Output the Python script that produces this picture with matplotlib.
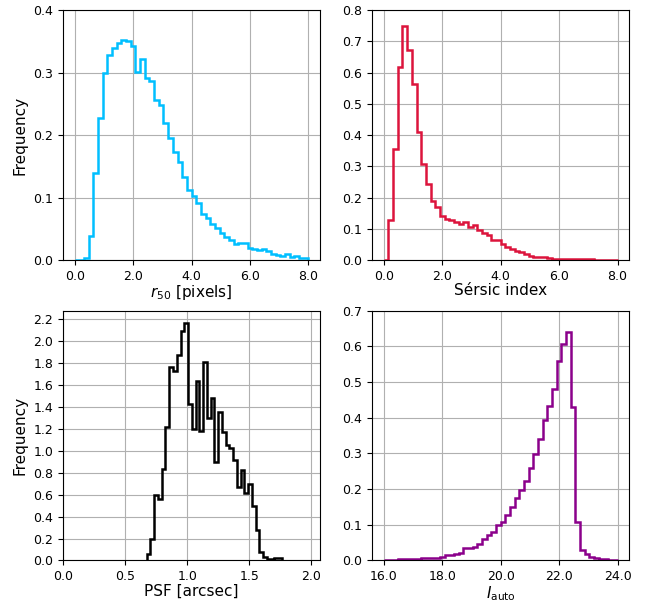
import numpy as np
import matplotlib
matplotlib.use("Agg")
import matplotlib.pyplot as plt

# r50 [pixels], 50 bins over 0-8
r50_lo, r50_hi = 0.0, 8.0
r50_freq = [0.0, 0.0, 0.003, 0.038, 0.140, 0.228, 0.299, 0.328, 0.340, 0.347,
            0.352, 0.350, 0.343, 0.301, 0.322, 0.291, 0.286, 0.257, 0.249, 0.220,
            0.195, 0.173, 0.157, 0.133, 0.112, 0.102, 0.091, 0.073, 0.068, 0.057,
            0.051, 0.043, 0.037, 0.032, 0.025, 0.027, 0.027, 0.020, 0.017, 0.016,
            0.017, 0.015, 0.010, 0.008, 0.007, 0.009, 0.005, 0.006, 0.004, 0.003]

# Sersic index, 50 bins over 0-8
sersic_lo, sersic_hi = 0.0, 8.0
sersic_freq = [0.0, 0.128, 0.355, 0.619, 0.750, 0.672, 0.565, 0.411, 0.307, 0.242,
               0.190, 0.169, 0.141, 0.133, 0.128, 0.123, 0.115, 0.121, 0.107, 0.111,
               0.096, 0.087, 0.080, 0.064, 0.064, 0.051, 0.043, 0.034, 0.029, 0.026,
               0.021, 0.013, 0.011, 0.011, 0.009, 0.007, 0.005, 0.005, 0.004, 0.004,
               0.003, 0.003, 0.002, 0.002, 0.002, 0.001, 0.001, 0.001, 0.001, 0.001]

# PSF [arcsec], 36 bins
psf_lo, psf_hi = 0.674, 1.763
psf_freq = [0.058, 0.194, 0.597, 0.561, 0.834, 1.218, 1.764, 1.725, 1.876, 2.097,
            2.167, 1.425, 1.197, 1.634, 1.179, 1.809, 1.303, 1.485, 0.900, 1.355,
            1.173, 1.052, 1.027, 0.915, 0.673, 0.824, 0.618, 0.697, 0.497, 0.279,
            0.076, 0.036, 0.013, 0.013, 0.018, 0.024]

# I_auto, 50 bins over 16-24
iauto_lo, iauto_hi = 16.0, 24.0
iauto_freq = [0.001, 0.002, 0.002, 0.003, 0.003, 0.004, 0.005, 0.005, 0.006, 0.007,
              0.007, 0.008, 0.010, 0.014, 0.014, 0.018, 0.022, 0.035, 0.035, 0.039,
              0.045, 0.059, 0.072, 0.079, 0.100, 0.108, 0.128, 0.149, 0.176, 0.198,
              0.222, 0.260, 0.297, 0.341, 0.394, 0.434, 0.481, 0.558, 0.607, 0.640,
              0.430, 0.107, 0.028, 0.019, 0.009, 0.007, 0.004, 0.003, 0.002, 0.001]

plt.rcParams['font.size'] = 9

fig = plt.figure(figsize=(6.46, 6.02), dpi=100)
ax1 = fig.add_axes([0.0975, 0.568, 0.398, 0.415])
ax2 = fig.add_axes([0.576, 0.568, 0.398, 0.415])
ax3 = fig.add_axes([0.0975, 0.069, 0.398, 0.415])
ax4 = fig.add_axes([0.576, 0.069, 0.398, 0.415])


def draw(ax, lo, hi, freq, color):
    edges = np.linspace(lo, hi, len(freq) + 1)
    ax.hist(edges[:-1], bins=edges, weights=freq, histtype='step',
            color=color, lw=1.8)
    ax.grid(True, color='#b0b0b0', lw=0.8)
    ax.set_axisbelow(True)
    ax.xaxis.set_major_formatter(matplotlib.ticker.FormatStrFormatter('%.1f'))
    ax.yaxis.set_major_formatter(matplotlib.ticker.FormatStrFormatter('%.1f'))


draw(ax1, r50_lo, r50_hi, r50_freq, '#00bfff')
ax1.set_xlim(-0.4, 8.4)
ax1.set_ylim(0, 0.4)
ax1.set_xticks([0, 2, 4, 6, 8])
ax1.set_yticks(np.arange(0, 0.41, 0.1))
ax1.set_xlabel(r'$r_{50}$ [pixels]', fontsize=11, labelpad=0.5)
ax1.set_ylabel('Frequency', fontsize=11)

draw(ax2, sersic_lo, sersic_hi, sersic_freq, '#dc143c')
ax2.set_xlim(-0.4, 8.4)
ax2.set_ylim(0, 0.8)
ax2.set_xticks([0, 2, 4, 6, 8])
ax2.set_yticks(np.arange(0, 0.81, 0.1))
ax2.set_xlabel('Sérsic index', fontsize=11, labelpad=0.5)

draw(ax3, psf_lo, psf_hi, psf_freq, 'black')
ax3.set_xlim(0, 2.07)
ax3.set_ylim(0, 2.28)
ax3.set_xticks([0, 0.5, 1.0, 1.5, 2.0])
ax3.set_yticks(np.arange(0, 2.21, 0.2))
ax3.set_xlabel('PSF [arcsec]', fontsize=11, labelpad=0.5)
ax3.set_ylabel('Frequency', fontsize=11)

draw(ax4, iauto_lo, iauto_hi, iauto_freq, '#8b008b')
ax4.set_xlim(15.6, 24.4)
ax4.set_ylim(0, 0.7)
ax4.set_xticks([16, 18, 20, 22, 24])
ax4.set_yticks(np.arange(0, 0.71, 0.1))
ax4.set_xlabel(r'$I_{\rm auto}$', fontsize=11, labelpad=0.5)

fig.savefig('out.png', dpi=100)
